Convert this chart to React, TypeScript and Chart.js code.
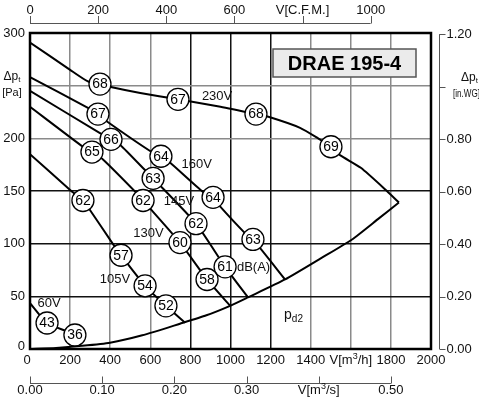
import React, { useEffect, useRef } from "react";
import { Chart, registerables } from "chart.js";

Chart.register(...registerables);

const FONT = '"Liberation Sans", Arial, Helvetica, sans-serif';

// ---- axis ticks ----
const FLOW_TICKS = [0, 200, 400, 600, 800, 1000, 1200, 1400, 1600, 1800, 2000];
const FLOW_TITLE_AT = 1600;
const PRESSURE_TICKS = [0, 50, 100, 150, 200, 250, 300];
const PRESSURE_TITLE_AT = 250;
const CFM_TICKS = [0, 200, 400, 600, 800, 1000];
const CFM_TITLE_AT = 800;
const M3S_TICKS = [0, 0.1, 0.2, 0.3, 0.4, 0.5];
const M3S_TITLE_AT = 0.4;
const INWG_TICKS = [0, 0.2, 0.4, 0.6, 0.8, 1.0, 1.2];
const INWG_TITLE_AT = 1.0;

const M3H_PER_CFM = 1.699011;
const M3H_PER_M3S = 3600;
const PA_PER_INWG = 249.089;

// ---- fan curves (V in m3/h, dp in Pa) ----
const v230 = [0, 200, 289, 349, 409, 550, 738, 950, 1127, 1197, 1347, 1437, 1501, 1546, 1650, 1780, 1840];
const p230 = [291, 265, 254, 251.5, 248.5, 243, 237, 230, 223, 220, 210, 200, 192, 184, 172, 150, 139];

const v160 = [0, 289, 339, 384, 599, 653, 698, 863, 913, 940, 1072, 1112, 1272];
const p160 = [258, 229, 223, 216, 188, 183, 177, 149, 144, 137, 110, 104, 66];

const v145 = [0, 349, 404, 449, 583, 614, 828, 973, 1087];
const p145 = [245, 205, 199, 194, 168, 162, 119, 78, 49];

const v130 = [0, 264, 309, 364, 532, 564, 748, 883, 998];
const p130 = [230, 192, 187, 180, 148, 141, 101, 66, 41];

const v105 = [0, 200, 264, 299, 409, 454, 574, 678, 773];
const p105 = [185, 151, 141, 132, 101, 89, 60, 41, 25];

const v60 = [0, 85, 224, 250];
const p60 = [43.5, 24.7, 13.3, 5];

const vPd2 = [0, 130, 259, 399, 560, 748, 880, 998, 1087, 1272, 1450, 1606, 1740, 1840];
const pPd2 = [0, 1, 3, 6, 13, 24, 32, 41, 49, 66, 86, 104, 124, 139];

// ---- sound level markers dB(A) ----
const markerV = [349, 738, 1127, 1501, 339, 653, 913, 1112, 404, 614, 828, 973, 309, 564, 748, 883, 264, 454, 574, 678, 85, 224];
const markerP = [251.5, 237, 223, 192, 223, 183, 144, 104, 199, 162, 119, 78, 187, 141, 101, 66, 141, 89, 60, 41, 24.7, 13.3];
const markerDb = [68, 67, 68, 69, 67, 64, 64, 63, 66, 63, 62, 61, 65, 62, 60, 58, 62, 57, 54, 52, 43, 36];

// ---- curve annotations ----
const noteText = ["230V", "160V", "145V", "130V", "105V", "60V", "dB(A)"];
const noteV = [933, 831, 743, 591, 424, 95, 1115];
const noteP = [240, 175, 140, 110, 66, 43, 77];
const pd2V = 1267;
const pd2P = 32;

const TITLE = "DRAE 195-4";

const GRID_DARK_X = [800, 1000, 1200];
const GRID_DARK_Y = [50, 100, 150];

type Seg = { t: string; s?: "sup" | "sub" };

function rich(
  ctx: CanvasRenderingContext2D,
  segs: Seg[],
  x: number,
  y: number,
  size: number,
  align: "left" | "center" | "right",
  maxW?: number
) {
  const small = Math.round(size * 0.68);
  const fontFor = (seg: Seg) => `${seg.s ? small : size}px ${FONT}`;
  let w = 0;
  segs.forEach((seg) => {
    ctx.font = fontFor(seg);
    w += ctx.measureText(seg.t).width;
  });
  const scale = maxW && w > maxW ? maxW / w : 1;
  const tw = w * scale;
  let cx = align === "left" ? x : align === "center" ? x - tw / 2 : x - tw;
  ctx.textAlign = "left";
  ctx.textBaseline = "middle";
  segs.forEach((seg) => {
    ctx.font = fontFor(seg);
    const dy = seg.s === "sup" ? -size * 0.3 : seg.s === "sub" ? size * 0.3 : 0;
    const sw = ctx.measureText(seg.t).width * scale;
    ctx.fillText(seg.t, cx, y + dy, sw + 0.01);
    cx += sw;
  });
}

const decorPlugin = {
  id: "decor",
  afterDatasetsDraw(chart: any) {
    const ctx: CanvasRenderingContext2D = chart.ctx;
    const xs = chart.scales.x;
    const ys = chart.scales.y;
    const { left, right, top, bottom } = chart.chartArea;
    ctx.save();

    // frame
    ctx.strokeStyle = "#000";
    ctx.lineWidth = 2.5;
    ctx.strokeRect(left, top, right - left, bottom - top);

    // marker numbers
    ctx.fillStyle = "#000";
    ctx.font = `14px ${FONT}`;
    ctx.textAlign = "center";
    ctx.textBaseline = "middle";
    markerDb.forEach((d, i) => {
      ctx.fillText(String(d), xs.getPixelForValue(markerV[i]), ys.getPixelForValue(markerP[i]) + 0.5);
    });

    // curve labels
    ctx.fillStyle = "#111";
    ctx.font = `13px ${FONT}`;
    noteText.forEach((t, i) => {
      ctx.fillText(t, xs.getPixelForValue(noteV[i]), ys.getPixelForValue(noteP[i]));
    });
    rich(ctx, [{ t: "p" }, { t: "d2", s: "sub" }], xs.getPixelForValue(pd2V), ys.getPixelForValue(pd2P), 14, "left");

    // title box
    const bx = right - 158;
    const by = top + 16;
    const bw = 143;
    const bh = 28;
    ctx.fillStyle = "#ebebeb";
    ctx.fillRect(bx, by, bw, bh);
    ctx.strokeStyle = "#555";
    ctx.lineWidth = 1.5;
    ctx.strokeRect(bx, by, bw, bh);
    ctx.fillStyle = "#000";
    ctx.font = `bold 20px ${FONT}`;
    ctx.textAlign = "center";
    ctx.textBaseline = "middle";
    ctx.fillText(TITLE, bx + bw / 2, by + bh / 2 + 1);

    ctx.fillStyle = "#111";
    // left tick labels
    PRESSURE_TICKS.forEach((p) => {
      const py = ys.getPixelForValue(p);
      if (p === PRESSURE_TITLE_AT) {
        rich(ctx, [{ t: "\u0394p" }, { t: "t", s: "sub" }], 12, py - 9, 12, "center");
        rich(ctx, [{ t: "[Pa]" }], 12, py + 7, 11, "center");
      } else {
        ctx.font = `13px ${FONT}`;
        ctx.textAlign = "right";
        ctx.textBaseline = "middle";
        ctx.fillText(String(p), left - 5, p === 0 ? py - 3 : py);
      }
    });

    // bottom m3/h labels
    FLOW_TICKS.forEach((v) => {
      const px = xs.getPixelForValue(v);
      if (v === FLOW_TITLE_AT) {
        rich(ctx, [{ t: "V[m" }, { t: "3", s: "sup" }, { t: "/h]" }], px, bottom + 11, 13, "center");
      } else {
        ctx.font = `13px ${FONT}`;
        ctx.textAlign = "center";
        ctx.textBaseline = "middle";
        ctx.fillText(String(v), v === 0 ? px - 3 : px, bottom + 11);
      }
    });

    // top CFM axis
    const yTop = top - 10;
    ctx.strokeStyle = "#555";
    ctx.lineWidth = 1;
    ctx.beginPath();
    ctx.moveTo(xs.getPixelForValue(0), yTop + 0.5);
    ctx.lineTo(xs.getPixelForValue(CFM_TICKS[CFM_TICKS.length - 1] * M3H_PER_CFM), yTop + 0.5);
    CFM_TICKS.forEach((c) => {
      const px = Math.round(xs.getPixelForValue(c * M3H_PER_CFM)) + 0.5;
      ctx.moveTo(px, yTop - 7);
      ctx.lineTo(px, yTop + 0.5);
    });
    ctx.stroke();
    CFM_TICKS.forEach((c) => {
      const px = xs.getPixelForValue(c * M3H_PER_CFM);
      ctx.font = `13px ${FONT}`;
      ctx.textAlign = "center";
      ctx.textBaseline = "middle";
      ctx.fillText(c === CFM_TITLE_AT ? "V[C.F.M.]" : String(c), px, yTop - 13);
    });

    // right in.WG axis
    const xr = right + 8.5;
    ctx.beginPath();
    ctx.moveTo(xr, ys.getPixelForValue(0));
    ctx.lineTo(xr, ys.getPixelForValue(INWG_TICKS[INWG_TICKS.length - 1] * PA_PER_INWG));
    INWG_TICKS.forEach((w) => {
      const py = Math.round(ys.getPixelForValue(w * PA_PER_INWG)) + 0.5;
      ctx.moveTo(xr, py);
      ctx.lineTo(xr + 6, py);
    });
    ctx.stroke();
    INWG_TICKS.forEach((w) => {
      const py = ys.getPixelForValue(w * PA_PER_INWG);
      if (w === INWG_TITLE_AT) {
        rich(ctx, [{ t: "\u0394p" }, { t: "t", s: "sub" }], xr + 30, py - 9, 12, "center");
        rich(ctx, [{ t: "[in.WG]" }], xr + 27, py + 7, 11, "center", 27);
      } else {
        ctx.font = `13px ${FONT}`;
        ctx.textAlign = "left";
        ctx.textBaseline = "middle";
        ctx.fillText(w.toFixed(2), xr + 7, py);
      }
    });

    // bottom m3/s axis
    const yb = bottom + 34.5;
    ctx.beginPath();
    ctx.moveTo(xs.getPixelForValue(0), yb);
    ctx.lineTo(xs.getPixelForValue(M3S_TICKS[M3S_TICKS.length - 1] * M3H_PER_M3S), yb);
    M3S_TICKS.forEach((s) => {
      const px = Math.round(xs.getPixelForValue(s * M3H_PER_M3S)) + 0.5;
      ctx.moveTo(px, yb - 7);
      ctx.lineTo(px, yb);
    });
    ctx.stroke();
    M3S_TICKS.forEach((s) => {
      const px = xs.getPixelForValue(s * M3H_PER_M3S);
      if (s === M3S_TITLE_AT) {
        rich(ctx, [{ t: "V[m" }, { t: "3", s: "sup" }, { t: "/s]" }], px, yb + 7, 13, "center");
      } else {
        ctx.font = `13px ${FONT}`;
        ctx.textAlign = "center";
        ctx.textBaseline = "middle";
        ctx.fillText(s.toFixed(2), px, yb + 7);
      }
    });

    ctx.restore();
  },
};

function toPts(v: number[], p: number[]) {
  return v.map((x, i) => ({ x, y: p[i] }));
}

export default function App() {
  const ref = useRef<HTMLCanvasElement | null>(null);

  useEffect(() => {
    if (!ref.current) return;
    const curves: [number[], number[]][] = [
      [v230, p230],
      [v160, p160],
      [v145, p145],
      [v130, p130],
      [v105, p105],
      [v60, p60],
      [vPd2, pPd2],
    ];
    const lineSets = curves.map(([v, p]) => ({
      data: toPts(v, p),
      showLine: true,
      borderColor: "#000",
      borderWidth: 2,
      pointRadius: 0,
      tension: 0.2,
      order: 1,
    }));
    const chart = new Chart(ref.current, {
      type: "scatter",
      data: {
        datasets: [
          ...lineSets,
          {
            data: toPts(markerV, markerP),
            showLine: false,
            pointRadius: 11,
            pointBackgroundColor: "#fff",
            pointBorderColor: "#000",
            pointBorderWidth: 1.3,
            order: 0,
          },
        ],
      } as any,
      options: {
        animation: false,
        responsive: false,
        devicePixelRatio: 1,
        layout: { padding: { left: 30, top: 33, right: 48, bottom: 49 } },
        plugins: { legend: { display: false }, tooltip: { enabled: false } },
        scales: {
          x: {
            type: "linear",
            min: 0,
            max: 2000,
            ticks: { display: false, stepSize: 200 },
            grid: {
              drawTicks: false,
              lineWidth: 1.5,
              color: (c: any) => (GRID_DARK_X.includes(c.tick?.value) ? "#111" : "#8a8a8a"),
            },
            border: { display: false },
            afterFit: (s: any) => {
              s.height = 0;
            },
          },
          y: {
            type: "linear",
            min: 0,
            max: 300,
            ticks: { display: false, stepSize: 50 },
            grid: {
              drawTicks: false,
              lineWidth: 1.5,
              color: (c: any) => (GRID_DARK_Y.includes(c.tick?.value) ? "#111" : "#8a8a8a"),
            },
            border: { display: false },
            afterFit: (s: any) => {
              s.width = 0;
            },
          },
        },
      } as any,
      plugins: [decorPlugin],
    });
    return () => chart.destroy();
  }, []);

  return (
    <div style={{ position: "fixed", left: 0, top: 0, width: 479, height: 398, background: "#fff" }}>
      <canvas ref={ref} width={479} height={398} style={{ display: "block" }} />
    </div>
  );
}
